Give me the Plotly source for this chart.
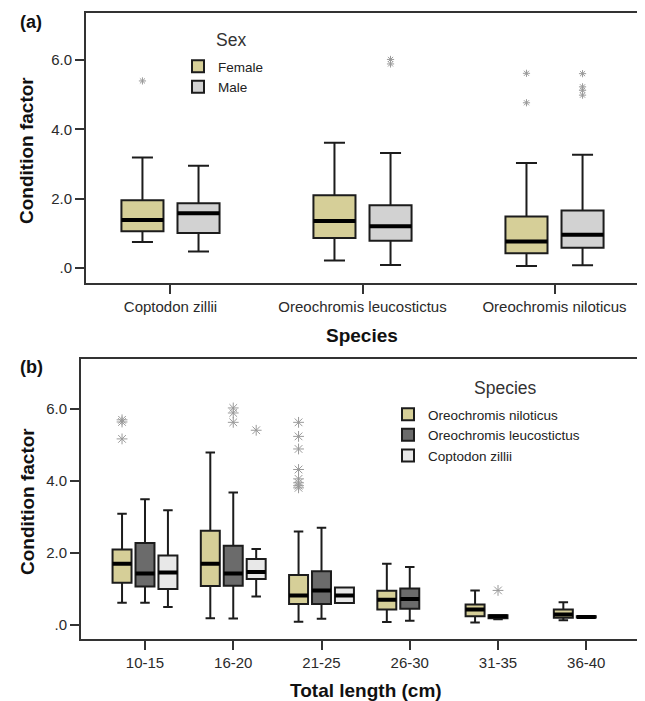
import plotly.graph_objects as go

# ---------------- Panel (a): condition factor by species and sex ----------------
CATS_A = ["Coptodon zillii", "Oreochromis leucostictus", "Oreochromis niloticus"]

FEMALE_LOW = [0.75, 0.22, 0.06]
FEMALE_Q1 = [1.06, 0.87, 0.43]
FEMALE_MED = [1.39, 1.36, 0.77]
FEMALE_Q3 = [1.96, 2.10, 1.49]
FEMALE_HIGH = [3.19, 3.62, 3.03]
FEMALE_OUT = [[5.40], [], [5.62, 4.77]]

MALE_LOW = [0.48, 0.09, 0.08]
MALE_Q1 = [1.01, 0.79, 0.59]
MALE_MED = [1.58, 1.21, 0.96]
MALE_Q3 = [1.87, 1.81, 1.66]
MALE_HIGH = [2.95, 3.32, 3.27]
MALE_OUT = [[], [6.02, 5.89], [5.61, 5.23, 5.13, 4.99]]

# ---------------- Panel (b): condition factor by length class and species ----------------
CATS_B = ["10-15", "16-20", "21-25", "26-30", "31-35", "36-40"]

NIL_LOW = [0.61, 0.18, 0.08, 0.07, 0.06, 0.12]
NIL_Q1 = [1.16, 1.07, 0.57, 0.42, 0.23, 0.19]
NIL_MED = [1.69, 1.69, 0.81, 0.69, 0.42, 0.28]
NIL_Q3 = [2.09, 2.61, 1.38, 0.94, 0.56, 0.42]
NIL_HIGH = [3.08, 4.78, 2.59, 1.69, 0.95, 0.62]
NIL_OUT = [[5.69, 5.63, 5.16], [], [5.62, 5.23, 4.88, 4.31, 4.05, 3.94, 3.86, 3.80], [], [], []]

LEU_LOW = [0.61, 0.17, 0.16, 0.11, 0.15, 0.19]
LEU_Q1 = [1.06, 1.08, 0.57, 0.44, 0.18, 0.20]
LEU_MED = [1.42, 1.42, 0.95, 0.71, 0.23, 0.21]
LEU_Q3 = [2.27, 2.19, 1.48, 1.00, 0.26, 0.23]
LEU_HIGH = [3.48, 3.67, 2.69, 1.60, 0.26, 0.23]
LEU_OUT = [[], [6.02, 5.88, 5.62], [], [], [0.95], []]

ZIL_LOW = [0.49, 0.78, 0.60, None, None, None]
ZIL_Q1 = [0.99, 1.27, 0.60, None, None, None]
ZIL_MED = [1.45, 1.46, 0.81, None, None, None]
ZIL_Q3 = [1.92, 1.82, 1.03, None, None, None]
ZIL_HIGH = [3.18, 2.10, 1.03, None, None, None]
ZIL_OUT = [[], [5.40], [], [], [], []]

# ---------------- styling ----------------
FONT = "Liberation Sans, Arial, sans-serif"
LINE = "#1c1c1c"
KHAKI = "#d6cf98"
GREY_M = "#d2d2d2"
DARK = "#6b6b6b"
LIGHT = "#e8e8e8"
STAR = "#9a9a9a"

fig = go.Figure()


def add_series(cats_n, offset, width, low, q1, med, q3, high, outs, fill, name,
               legend, xa, ya, star_size):
    idx = [i for i in range(cats_n) if med[i] is not None]
    xs = [i + offset for i in idx]
    fig.add_trace(go.Box(
        x=xs, lowerfence=[low[i] for i in idx], q1=[q1[i] for i in idx],
        median=[med[i] for i in idx], q3=[q3[i] for i in idx],
        upperfence=[high[i] for i in idx],
        width=width, whiskerwidth=0.5, fillcolor=fill,
        line=dict(color=LINE, width=2), name=name, legend=legend,
        xaxis=xa, yaxis=ya, hoverinfo="skip", boxpoints=False))
    # thick median line
    fig.add_trace(go.Box(
        x=xs, lowerfence=[med[i] for i in idx], q1=[med[i] for i in idx],
        median=[med[i] for i in idx], q3=[med[i] for i in idx],
        upperfence=[med[i] for i in idx],
        width=width, whiskerwidth=0, fillcolor="rgba(0,0,0,0)",
        line=dict(color="#000000", width=4), showlegend=False,
        xaxis=xa, yaxis=ya, hoverinfo="skip", boxpoints=False))
    ox, oy = [], []
    for i in range(cats_n):
        for v in outs[i]:
            ox.append(i + offset)
            oy.append(v)
    if ox:
        fig.add_trace(go.Scatter(
            x=ox, y=oy, mode="markers", showlegend=False, xaxis=xa, yaxis=ya,
            hoverinfo="skip",
            marker=dict(symbol="asterisk-open", size=star_size,
                        color=STAR, line=dict(color=STAR, width=1))))


# panel (a)
add_series(len(CATS_A), -0.146, 0.219, FEMALE_LOW, FEMALE_Q1, FEMALE_MED, FEMALE_Q3,
           FEMALE_HIGH, FEMALE_OUT, KHAKI, "Female", "legend", "x", "y", 6)
add_series(len(CATS_A), 0.146, 0.219, MALE_LOW, MALE_Q1, MALE_MED, MALE_Q3,
           MALE_HIGH, MALE_OUT, GREY_M, "Male", "legend", "x", "y", 6)

# panel (b)
add_series(len(CATS_B), -0.26, 0.215, NIL_LOW, NIL_Q1, NIL_MED, NIL_Q3, NIL_HIGH,
           NIL_OUT, KHAKI, "Oreochromis niloticus", "legend2", "x2", "y2", 9)
add_series(len(CATS_B), 0.0, 0.215, LEU_LOW, LEU_Q1, LEU_MED, LEU_Q3, LEU_HIGH,
           LEU_OUT, DARK, "Oreochromis leucostictus", "legend2", "x2", "y2", 9)
add_series(len(CATS_B), 0.26, 0.215, ZIL_LOW, ZIL_Q1, ZIL_MED, ZIL_Q3, ZIL_HIGH,
           ZIL_OUT, LIGHT, "Coptodon zillii", "legend2", "x2", "y2", 9)

# The page body adds an 8 px margin; size the figure so it fills the window.
W, H, OFF = 645, 701, 8
FW, FH = W - OFF, H - OFF


def px_x(p):
    return (p - OFF) / FW


def px_y(p):
    return 1 - (p - OFF) / FH


tickfont = dict(family=FONT, size=15, color="#2a2a2a")
common_x = dict(showline=True, mirror=True, linecolor="#333333", linewidth=2,
                ticks="outside", ticklen=9, tickwidth=2, tickcolor="#333333",
                showgrid=False, zeroline=False, tickfont=tickfont)
common_y = dict(showline=True, mirror=True, linecolor="#333333", linewidth=2,
                ticks="outside", ticklen=9, tickwidth=2, tickcolor="#333333",
                showgrid=False, zeroline=False, tickfont=tickfont,
                tickvals=[0, 2, 4, 6], ticktext=[".0", "2.0", "4.0", "6.0"])

legfont = dict(family=FONT, size=13.5, color="#222222")
fig.update_layout(
    width=FW, height=FH, margin=dict(l=0, r=0, t=0, b=0),
    paper_bgcolor="white", plot_bgcolor="white",
    font=dict(family=FONT, color="#222222"),
    xaxis=dict(common_x, domain=[px_x(86), px_x(639)], range=[-0.44, 2.44],
               tickvals=list(range(len(CATS_A))), ticktext=CATS_A, anchor="y"),
    yaxis=dict(common_y, domain=[px_y(283), px_y(13)], range=[-0.43, 7.36], anchor="x"),
    xaxis2=dict(common_x, domain=[px_x(81), px_x(641)], range=[-0.725, 5.62],
                tickvals=list(range(len(CATS_B))), ticktext=CATS_B, anchor="y2"),
    yaxis2=dict(common_y, domain=[px_y(639), px_y(359)], range=[-0.40, 7.38], anchor="x2"),
    legend=dict(x=px_x(178), y=px_y(51), xanchor="left", yanchor="top",
                bgcolor="rgba(0,0,0,0)", font=legfont,
                tracegroupgap=0, itemclick=False),
    legend2=dict(x=px_x(388), y=px_y(399), xanchor="left", yanchor="top",
                 bgcolor="rgba(0,0,0,0)", font=legfont,
                 tracegroupgap=0, itemclick=False),
    showlegend=True,
)

ann = []


def label(text, x, y, size, angle=0, color="#111111"):
    ann.append(dict(text=text, x=px_x(x), y=px_y(y), xref="paper", yref="paper",
                    showarrow=False, textangle=angle, xanchor="center", yanchor="middle",
                    font=dict(family=FONT, size=size, color=color)))


label("<b>(a)</b>", 31, 22, 18)
label("<b>(b)</b>", 31, 367, 18)
label("<b>Condition factor</b>", 27, 151, 19, -90)
label("<b>Condition factor</b>", 27, 502, 19, -90)
label("<b>Species</b>", 362, 335, 19)
label("<b>Total length (cm)</b>", 366, 690, 19)
label("Sex", 231, 40, 17.5, color="#333333")
label("Species", 505, 388, 17.5, color="#333333")
fig.update_layout(annotations=ann)

fig.write_html("out.html")
